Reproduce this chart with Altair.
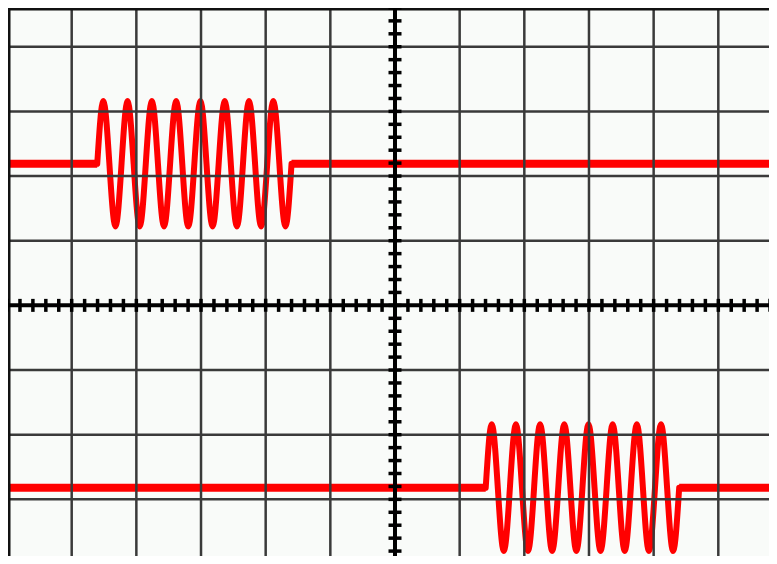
import altair as alt
import pandas as pd

# ---- screen geometry in divisions ----
W, H = 761, 548
X_DOMAIN = [-5.985, 5.784]
Y_DOMAIN = [-3.876, 4.599]

# graticule
grid_x = [-5, -4, -3, -2, -1, 1, 2, 3, 4, 5]
grid_y = [-3, -2, -1, 1, 2, 3, 4]
border_x = [-5.985]
border_y = [4.599]
minor_x = [round(i * 0.2, 2) for i in range(-30, 30)]
minor_y = [round(i * 0.2, 2) for i in range(-20, 24)]

# ---- trace A (upper channel) ----
base_a = 2.19
flat_a_x = [-6.0, -4.605, -1.600, 6.0]
flat_a_seg = ["a1", "a1", "a2", "a2"]
burst_a_x = [-4.605, -4.511, -4.417, -4.323, -4.229, -4.136, -4.042, -3.948,
             -3.854, -3.760, -3.666, -3.572, -3.478, -3.384, -3.290, -3.197,
             -3.103, -3.009, -2.915, -2.821, -2.727, -2.633, -2.539, -2.445,
             -2.351, -2.258, -2.164, -2.070, -1.976, -1.882, -1.788, -1.694,
             -1.600]
burst_a_y = [2.19, 3.16, 2.19, 1.22, 2.19, 3.16, 2.19, 1.22,
             2.19, 3.16, 2.19, 1.22, 2.19, 3.16, 2.19, 1.22,
             2.19, 3.16, 2.19, 1.22, 2.19, 3.16, 2.19, 1.22,
             2.19, 3.16, 2.19, 1.22, 2.19, 3.16, 2.19, 1.22,
             2.19]

# ---- trace B (lower channel) ----
base_b = -2.82
flat_b_x = [-6.0, 1.403, 4.395, 6.0]
flat_b_seg = ["b1", "b1", "b2", "b2"]
burst_b_x = [1.403, 1.496, 1.590, 1.683, 1.777, 1.870, 1.964, 2.057,
             2.151, 2.244, 2.338, 2.431, 2.525, 2.618, 2.712, 2.805,
             2.899, 2.992, 3.086, 3.179, 3.273, 3.366, 3.460, 3.553,
             3.647, 3.740, 3.834, 3.927, 4.021, 4.114, 4.208, 4.301,
             4.395]
burst_b_y = [-2.82, -1.84, -2.82, -3.80, -2.82, -1.84, -2.82, -3.80,
             -2.82, -1.84, -2.82, -3.80, -2.82, -1.84, -2.82, -3.80,
             -2.82, -1.84, -2.82, -3.80, -2.82, -1.84, -2.82, -3.80,
             -2.82, -1.84, -2.82, -3.80, -2.82, -1.84, -2.82, -3.80,
             -2.82]

xs = alt.Scale(domain=X_DOMAIN, nice=False, zero=False)
ys = alt.Scale(domain=Y_DOMAIN, nice=False, zero=False)

RED = "#ff0000"
GRID = "#3a3a3a"

flat_df = pd.DataFrame({
    "x": flat_a_x + flat_b_x,
    "y": [base_a] * 4 + [base_b] * 4,
    "seg": flat_a_seg + flat_b_seg,
})
burst_df = pd.DataFrame({
    "x": burst_a_x + burst_b_x,
    "y": burst_a_y + burst_b_y,
    "seg": ["A"] * len(burst_a_x) + ["B"] * len(burst_b_x),
})

flat = alt.Chart(flat_df).mark_line(color=RED, strokeWidth=8, clip=True).encode(
    x=alt.X("x:Q", scale=xs, axis=None),
    y=alt.Y("y:Q", scale=ys, axis=None),
    detail="seg:N",
)
burst = alt.Chart(burst_df).mark_line(
    color=RED, strokeWidth=6, interpolate="natural", strokeCap="round", clip=True
).encode(
    x=alt.X("x:Q", scale=xs, axis=None),
    y=alt.Y("y:Q", scale=ys, axis=None),
    detail="seg:N",
)

grid_v = alt.Chart(pd.DataFrame({"x": grid_x})).mark_rule(color=GRID, strokeWidth=2.5).encode(
    x=alt.X("x:Q", scale=xs, axis=None))
grid_h = alt.Chart(pd.DataFrame({"y": grid_y})).mark_rule(color=GRID, strokeWidth=2.5).encode(
    y=alt.Y("y:Q", scale=ys, axis=None))
bord_v = alt.Chart(pd.DataFrame({"x": border_x})).mark_rule(color="#111111", strokeWidth=5).encode(
    x=alt.X("x:Q", scale=xs, axis=None))
bord_h = alt.Chart(pd.DataFrame({"y": border_y})).mark_rule(color="#111111", strokeWidth=5).encode(
    y=alt.Y("y:Q", scale=ys, axis=None))

axis_v = alt.Chart(pd.DataFrame({"x": [0]})).mark_rule(color="black", strokeWidth=4).encode(
    x=alt.X("x:Q", scale=xs, axis=None))
axis_h = alt.Chart(pd.DataFrame({"y": [0]})).mark_rule(color="black", strokeWidth=4).encode(
    y=alt.Y("y:Q", scale=ys, axis=None))

ticks_h = alt.Chart(pd.DataFrame({"x": minor_x, "y": [0] * len(minor_x)})).mark_tick(
    orient="vertical", size=13, thickness=3.5, color="black", opacity=1, clip=True
).encode(
    x=alt.X("x:Q", scale=xs, axis=None),
    y=alt.Y("y:Q", scale=ys, axis=None),
)
ticks_v = alt.Chart(pd.DataFrame({"y": minor_y, "x": [0] * len(minor_y)})).mark_tick(
    orient="horizontal", size=13, thickness=3.5, color="black", opacity=1, clip=True
).encode(
    x=alt.X("x:Q", scale=xs, axis=None),
    y=alt.Y("y:Q", scale=ys, axis=None),
)

chart = alt.layer(
    flat, burst, grid_v, grid_h, bord_v, bord_h, axis_v, axis_h, ticks_h, ticks_v
).properties(
    width=W, height=H, padding=0, autosize="none", background="#f9fbf9"
).configure_view(strokeWidth=0)

chart.save("out.html", embed_options={"renderer": "svg", "actions": False})
